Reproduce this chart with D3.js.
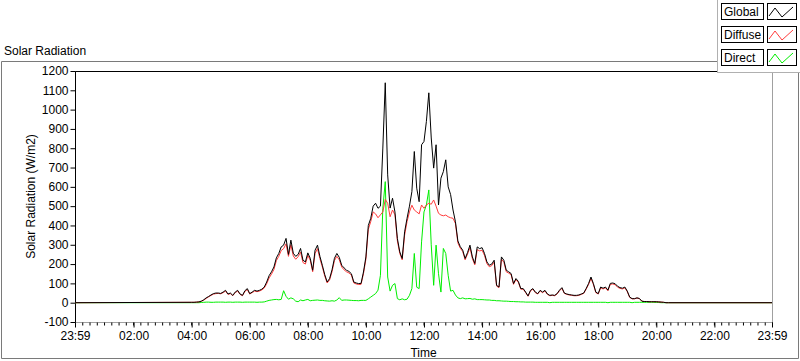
<!DOCTYPE html>
<html>
<head>
<meta charset="utf-8">
<script src="https://cdn.jsdelivr.net/npm/d3@7"></script>
<style>
    body { margin: 0; background: #fff; }
    svg { display: block; font-family: "Liberation Sans", Arial, sans-serif; }
</style>
</head>
<body>
<div id="chart"></div>
<script>
// readings every 5 minutes starting 04:00
const startMinute = 240
const stepMinutes = 5

const globalValues = [
    2, 2, 3, 4, 8, 15, 25, 32, 40, 47, 50, 50,
    48, 55, 64, 45, 50, 38, 55, 64, 45, 38, 62, 73,
    47, 55, 64, 60, 64, 70, 81, 107, 140, 160, 185, 232,
    255, 289, 298, 333, 250, 324, 256, 240, 250, 281, 220, 211,
    258, 230, 168, 272, 298, 240, 194, 145, 107, 125, 170, 230,
    255, 235, 194, 180, 168, 162, 150, 107, 102, 99, 100, 159,
    237, 400, 437, 500, 515, 489, 500, 801, 1139, 662, 490, 541,
    470, 333, 263, 229, 367, 437, 500, 575, 783, 593, 523, 818,
    835, 939, 1087, 853, 697, 818, 506, 645, 679, 740, 600, 560,
    480, 419, 320, 290, 272, 229, 260, 298, 237, 203, 289, 280,
    285, 255, 211, 194, 200, 220, 90, 81, 237, 220, 168, 160,
    151, 99, 125, 110, 73, 73, 55, 35, 64, 73, 55, 47,
    64, 55, 64, 45, 38, 40, 38, 47, 65, 78, 50, 45,
    42, 40, 38, 38, 40, 45, 50, 73, 99, 133, 99, 55,
    47, 81, 75, 81, 65, 100, 102, 98, 85, 78, 75, 81,
    60, 29, 21, 21, 25, 22, 8, 6, 6, 5, 5, 5,
    5, 4, 3, 2, 0, 0
]

const diffuseValues = [
    2, 2, 3, 4, 7, 13, 22, 30, 38, 44, 47, 48,
    46, 52, 60, 43, 47, 36, 52, 60, 43, 36, 58, 68,
    45, 52, 60, 57, 60, 66, 76, 98, 128, 148, 172, 218,
    240, 270, 280, 305, 240, 300, 242, 225, 238, 262, 208, 200,
    245, 220, 160, 255, 280, 228, 185, 138, 102, 118, 160, 218,
    240, 222, 185, 170, 160, 154, 143, 102, 97, 94, 95, 150,
    225, 380, 420, 470, 460, 440, 455, 470, 535, 515, 445, 480,
    455, 320, 255, 222, 350, 420, 470, 505, 480, 470, 460, 506,
    489, 506, 515, 510, 532, 500, 463, 454, 450, 454, 445, 440,
    437, 410, 310, 282, 265, 222, 252, 285, 228, 196, 275, 268,
    272, 245, 202, 186, 192, 210, 86, 78, 225, 210, 160, 153,
    145, 95, 120, 105, 70, 70, 52, 33, 61, 70, 52, 45,
    61, 52, 61, 43, 36, 38, 36, 45, 62, 74, 48, 43,
    40, 38, 36, 36, 38, 43, 48, 70, 94, 126, 94, 52,
    45, 77, 71, 77, 62, 95, 97, 93, 80, 74, 71, 77,
    57, 27, 20, 20, 24, 21, 8, 6, 6, 5, 5, 5,
    5, 4, 3, 2, 0, 0
]

const directValues = [
    0, 0, 0, 0, 1, 2, 3, 3, 2, 2, 3, 3,
    3, 3, 2, 3, 3, 2, 3, 3, 3, 2, 3, 3,
    3, 3, 3, 2, 3, 3, 4, 8, 12, 14, 16, 17,
    15, 17, 62, 33, 18, 25, 20, 8, 5, 14, 10, 14,
    17, 10, 12, 13, 14, 12, 12, 10, 9, 8, 10, 8,
    14, 26, 12, 14, 14, 13, 12, 11, 11, 10, 12, 12,
    12, 20, 29, 38, 47, 65, 142, 489, 627, 133, 60, 90,
    99, 21, 15, 20, 15, 18, 38, 73, 255, 80, 73, 315,
    470, 506, 584, 300, 90, 298, 150, 55, 281, 255, 142, 60,
    64, 40, 25, 21, 25, 20, 21, 22, 18, 20, 16, 16,
    16, 15, 14, 14, 12, 12, 10, 10, 9, 8, 8, 7,
    6, 6, 5, 5, 4, 4, 3, 3, 3, 3, 2, 2,
    2, 2, 2, 2, 0, 2, 2, 2, 2, 2, 2, 2,
    2, 2, 2, 2, 2, 2, 2, 2, 2, 2, 2, 2,
    2, 2, 2, 2, 0, 2, 2, 2, 2, 2, 2, 2,
    2, 2, 0, 2, 2, 2, 2, 2, 2, 2, 2, 2,
    1, 1, 0, 0, 0, 0
]

const seriesNames = ['Global', 'Diffuse', 'Direct']
const seriesColours = ['#000000', '#ff3c3c', '#00ee00']

// x axis runs from 23:59 of the previous day to 23:59
const dayStart = -1 / 60
const dayEnd = 24 - 1 / 60
const xTickHours = [dayStart, 2, 4, 6, 8, 10, 12, 14, 16, 18, 20, 22, dayEnd]
const xTickLabels = ['23:59', '02:00', '04:00', '06:00', '08:00', '10:00', '12:00',
    '14:00', '16:00', '18:00', '20:00', '22:00', '23:59']
const yTicks = [-100, 0, 100, 200, 300, 400, 500, 600, 700, 800, 900, 1000, 1100, 1200]

const width = 800
const height = 361
const plot = { left: 75, right: 772, top: 71, bottom: 322 }

const svg = d3.select('#chart')
    .append('svg')
    .attr('width', width)
    .attr('height', height)

const x = d3.scaleLinear().domain([dayStart, dayEnd]).range([plot.left, plot.right])
const y = d3.scaleLinear().domain([-100, 1200]).range([plot.bottom, plot.top])

// outer frame
svg.append('path')
    .attr('d', 'M717.5,61.5 H1.5 V358.5 H798.5 V72')
    .attr('fill', 'none')
    .attr('stroke', '#7a7a7a')

svg.append('text')
    .attr('x', 4)
    .attr('y', 55)
    .attr('font-size', 12)
    .text('Solar Radiation')

// plot frame
svg.append('rect')
    .attr('x', plot.left + 0.5)
    .attr('y', plot.top + 0.5)
    .attr('width', plot.right - plot.left)
    .attr('height', plot.bottom - plot.top)
    .attr('fill', '#fff')
    .attr('stroke', '#a0a0a0')
svg.append('path')
    .attr('d', `M${plot.left + 0.5},${plot.bottom} V${plot.top + 0.5} H${plot.right}`)
    .attr('fill', 'none')
    .attr('stroke', '#000')

// y axis
const yAxis = svg.append('g')
    .attr('transform', `translate(${plot.left + 0.5},0)`)
    .call(d3.axisLeft(y)
        .tickValues(yTicks)
        .tickSize(5)
        .tickSizeOuter(0)
        .tickPadding(2)
        .tickFormat(d => String(d)))
yAxis.select('.domain').remove()
yAxis.selectAll('text').attr('font-size', 12).attr('font-family', '"Liberation Sans", Arial, sans-serif').attr('fill', '#000')

// x axis: minor ticks every 15 minutes, labelled ones every 2 hours
const minorHours = d3.range(dayStart, dayEnd + 0.001, 0.25)
const xMinor = svg.append('g')
    .attr('transform', `translate(0,${plot.bottom + 0.5})`)
    .call(d3.axisBottom(x).tickValues(minorHours).tickSize(3).tickSizeOuter(0).tickFormat(''))
xMinor.select('.domain').remove()

const xAxis = svg.append('g')
    .attr('transform', `translate(0,${plot.bottom + 0.5})`)
    .call(d3.axisBottom(x)
        .tickValues(xTickHours)
        .tickSize(5)
        .tickSizeOuter(0)
        .tickPadding(4)
        .tickFormat((d, i) => xTickLabels[i]))
xAxis.select('.domain').remove()
xAxis.selectAll('text').attr('font-size', 12).attr('font-family', '"Liberation Sans", Arial, sans-serif').attr('fill', '#000')

svg.append('text')
    .attr('x', (plot.left + plot.right) / 2)
    .attr('y', 357)
    .attr('text-anchor', 'middle')
    .attr('font-size', 12)
    .text('Time')

svg.append('text')
    .attr('transform', `translate(35,${(plot.top + plot.bottom) / 2}) rotate(-90)`)
    .attr('text-anchor', 'middle')
    .attr('font-size', 12)
    .text('Solar Radiation (W/m2)')

// series
const toPoints = values => [{ h: dayStart, v: 0 }]
    .concat(values.map((v, i) => ({ h: (startMinute + i * stepMinutes) / 60, v })))
    .concat([{ h: dayEnd, v: 0 }])

const seriesData = [globalValues, diffuseValues, directValues].map(toPoints)

const line = d3.line()
    .x(d => x(d.h))
    .y(d => y(d.v))

const lines = svg.append('g')
// direct drawn first, global on top
for (let i = seriesData.length - 1; i >= 0; i--) {
    lines.append('path')
        .datum(seriesData[i])
        .attr('d', line)
        .attr('fill', 'none')
        .attr('stroke', seriesColours[i])
        .attr('stroke-width', 1)
}

// legend
const legend = svg.append('g')
legend.append('rect')
    .attr('x', 717.5)
    .attr('y', -1)
    .attr('width', 84)
    .attr('height', 73.5)
    .attr('fill', '#fff')
    .attr('stroke', '#b0b0b0')

const rowTops = [3, 26, 49]
seriesNames.forEach((name, i) => {
    const row = legend.append('g').attr('transform', `translate(0,${rowTops[i]})`)
    row.append('rect')
        .attr('x', 721.5)
        .attr('y', 0.5)
        .attr('width', 42)
        .attr('height', 16)
        .attr('fill', '#fff')
        .attr('stroke', '#000')
    row.append('text')
        .attr('x', 724)
        .attr('y', 13)
        .attr('font-size', 12)
        .text(name)
    row.append('rect')
        .attr('x', 767.5)
        .attr('y', 0.5)
        .attr('width', 29)
        .attr('height', 16)
        .attr('fill', '#fff')
        .attr('stroke', '#000')
    row.append('polyline')
        .attr('points', '769,13 775,5 782,14 793,4')
        .attr('fill', 'none')
        .attr('stroke', seriesColours[i])
})
</script>
</body>
</html>
